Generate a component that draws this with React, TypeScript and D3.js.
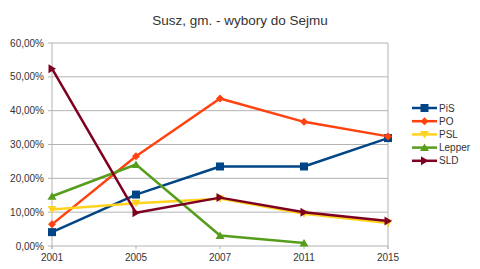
import React from "react";
import * as d3 from "d3";

const years = ["2001", "2005", "2007", "2011", "2015"];
const yTicks = [0, 0.1, 0.2, 0.3, 0.4, 0.5, 0.6];
const title = "Susz, gm. - wybory do Sejmu";

const pis = [0.041, 0.152, 0.235, 0.235, 0.319];
const po = [0.064, 0.265, 0.436, 0.367, 0.324];
const psl = [0.108, 0.126, 0.14, 0.095, 0.068];
const lepper = [0.147, 0.241, 0.031, 0.009, null];
const sld = [0.524, 0.098, 0.143, 0.1, 0.074];

const seriesNames = ["PiS", "PO", "PSL", "Lepper", "SLD"];
const seriesValues = [pis, po, psl, lepper, sld];
const seriesColors = ["#004586", "#ff420e", "#ffd320", "#579d1c", "#7e0021"];
const seriesMarkers = ["square", "diamond", "down", "up", "right"];

const W = 480;
const H = 269;
const font = "'Liberation Sans', Arial, sans-serif";

function Marker({ kind, x, y, color }: { kind: string; x: number; y: number; color: string }) {
  if (kind === "square") {
    return <rect x={x - 4} y={y - 4} width={8} height={8} fill={color} />;
  }
  let pts: [number, number][] = [];
  if (kind === "diamond") pts = [[0, -4], [4, 0], [0, 4], [-4, 0]];
  if (kind === "down") pts = [[-4.5, -3.5], [4.5, -3.5], [0, 4]];
  if (kind === "up") pts = [[-4.5, 3.5], [4.5, 3.5], [0, -4]];
  if (kind === "right") pts = [[-3.5, -4.5], [-3.5, 4.5], [4, 0]];
  return <polygon points={pts.map(([a, b]) => `${x + a},${y + b}`).join(" ")} fill={color} />;
}

export default function App() {
  const x = d3.scalePoint<string>().domain(years).range([52, 388]);
  const y = d3.scaleLinear().domain([0, 0.6]).range([246, 43]);
  const fmt = (v: number) => (v * 100).toFixed(2).replace(".", ",") + "%";
  const line = d3
    .line<number | null>()
    .defined((d) => d !== null)
    .x((_, i) => x(years[i]) as number)
    .y((d) => y(d as number));

  return (
    <svg width={W} height={H} style={{ position: "absolute", left: 0, top: 0, background: "#fff" }} fontFamily={font}>
      <rect x={0} y={0} width={W} height={H} fill="#fff" />
      <text x={240} y={25} textAnchor="middle" fontSize={13.5} fill="#333">
        {title}
      </text>
      {yTicks.map((t) => (
        <g key={t}>
          <line x1={48} x2={388} y1={y(t)} y2={y(t)} stroke="#b3b3b3" strokeWidth={1} />
          <text x={44} y={y(t)} dy="0.35em" textAnchor="end" fontSize={10} fill="#333">
            {fmt(t)}
          </text>
        </g>
      ))}
      <line x1={52} x2={52} y1={y(0.6)} y2={y(0) + 3} stroke="#b3b3b3" />
      <line x1={388} x2={388} y1={y(0.6)} y2={y(0) + 3} stroke="#b3b3b3" />
      {years.map((yr) => (
        <g key={yr}>
          <line x1={x(yr)} x2={x(yr)} y1={y(0)} y2={y(0) + 3} stroke="#b3b3b3" />
          <text x={x(yr)} y={261} textAnchor="middle" fontSize={10} fill="#333">
            {yr}
          </text>
        </g>
      ))}
      {seriesValues.map((vals, si) => (
        <g key={seriesNames[si]}>
          <path d={line(vals) || ""} fill="none" stroke={seriesColors[si]} strokeWidth={2.5} strokeLinejoin="round" />
          {vals.map((v, i) =>
            v === null ? null : (
              <Marker key={i} kind={seriesMarkers[si]} x={x(years[i]) as number} y={y(v)} color={seriesColors[si]} />
            )
          )}
        </g>
      ))}
      {seriesNames.map((n, i) => {
        const ly = 108 + i * 13.2;
        return (
          <g key={n}>
            <line x1={412} x2={437} y1={ly} y2={ly} stroke={seriesColors[i]} strokeWidth={2.5} />
            <Marker kind={seriesMarkers[i]} x={424.5} y={ly} color={seriesColors[i]} />
            <text x={439} y={ly} dy="0.35em" fontSize={10} fill="#333">
              {n}
            </text>
          </g>
        );
      })}
    </svg>
  );
}
